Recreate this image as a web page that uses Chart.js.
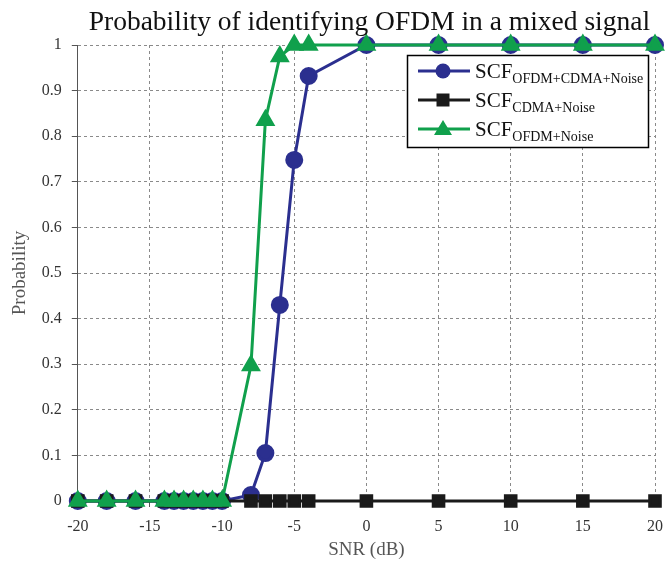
<!DOCTYPE html>
<html>
<head>
<meta charset="utf-8">
<script src="https://cdn.jsdelivr.net/npm/chart.js@4.4.1/dist/chart.umd.min.js"></script>
<style>
  html, body { margin: 0; padding: 0; background: #fff; }
  #wrap { width: 665px; height: 562px; position: relative; }
</style>
</head>
<body>
<div id="wrap"><canvas id="chart" width="665" height="562"></canvas></div>
<script>
// SNR values (dB) shared by all three curves
const snr = [-20, -18, -16, -14, -13.33, -12.67, -12, -11.33, -10.67, -10, -8, -7, -6, -5, -4, 0, 5, 10, 15, 20];

// probability of identifying OFDM
const probMixed = [0, 0, 0, 0, 0, 0, 0, 0, 0, 0, 0.013, 0.105, 0.43, 0.748, 0.932, 1, 1, 1, 1, 1];
const probCdma  = [0, 0, 0, 0, 0, 0, 0, 0, 0, 0, 0, 0, 0, 0, 0, 0, 0, 0, 0, 0];
const probOfdm  = [0, 0, 0, 0, 0, 0, 0, 0, 0, 0, 0.297, 0.835, 0.975, 1, 1, 1, 1, 1, 1, 1];

// legend text: main part + subscript
const legendMain = ['SCF', 'SCF', 'SCF'];
const legendSub = ['OFDM+CDMA+Noise', 'CDMA+Noise', 'OFDM+Noise'];

const chartTitle = 'Probability of identifying OFDM in a mixed signal';
const xTicks = [-20, -15, -10, -5, 0, 5, 10, 15, 20];
const yTicks = [0, 0.1, 0.2, 0.3, 0.4, 0.5, 0.6, 0.7, 0.8, 0.9, 1];

const BLUE = '#2b2f8f';
const BLACK = '#1a1a1a';
const GREEN = '#10a04c';
const SERIF = "'Liberation Serif', 'DejaVu Serif', serif";

const toXY = (ys) => snr.map((x, i) => ({ x: x, y: ys[i] }));

// title centred over the plot area
const plotTitle = {
  id: 'plotTitle',
  afterDraw(chart) {
    const ctx = chart.ctx;
    const area = chart.chartArea;
    ctx.save();
    ctx.fillStyle = '#111';
    ctx.font = '27.5px ' + SERIF;
    ctx.textAlign = 'center';
    ctx.textBaseline = 'alphabetic';
    ctx.fillText(chartTitle, (area.left + area.right) / 2 + 3, 30);
    ctx.restore();
  }
};

// legend drawn by hand so the subscripts come out right
const subLegend = {
  id: 'subLegend',
  afterDraw(chart) {
    const ctx = chart.ctx;
    const area = chart.chartArea;
    const bx = area.right - 248, by = area.top + 10, bw = 241, bh = 92;
    ctx.save();
    ctx.fillStyle = '#fff';
    ctx.fillRect(bx, by, bw, bh);
    ctx.strokeStyle = '#000';
    ctx.lineWidth = 1.5;
    ctx.strokeRect(bx + 0.5, by + 0.5, bw, bh);
    const ds = chart.data.datasets;
    for (let i = 0; i < 3; i++) {
      const d = ds.find(s => s.legendIdx === i);
      const cy = by + 16 + i * 29;
      ctx.strokeStyle = d.borderColor;
      ctx.lineWidth = 3;
      ctx.beginPath();
      ctx.moveTo(bx + 11, cy);
      ctx.lineTo(bx + 63, cy);
      ctx.stroke();
      ctx.fillStyle = d.borderColor;
      const mx = bx + 36;
      ctx.beginPath();
      if (d.pointStyle === 'circle') {
        ctx.arc(mx, cy, 7.5, 0, Math.PI * 2);
      } else if (d.pointStyle === 'rect') {
        ctx.rect(mx - 6.5, cy - 6.5, 13, 13);
      } else {
        ctx.moveTo(mx, cy - 9);
        ctx.lineTo(mx + 9, cy + 6);
        ctx.lineTo(mx - 9, cy + 6);
        ctx.closePath();
      }
      ctx.fill();
      ctx.fillStyle = '#111';
      ctx.textBaseline = 'alphabetic';
      ctx.font = '21px ' + SERIF;
      ctx.fillText(legendMain[i], bx + 68, cy + 7);
      const w = ctx.measureText(legendMain[i]).width;
      ctx.font = '14px ' + SERIF;
      ctx.fillText(legendSub[i], bx + 68 + w, cy + 12);
    }
    ctx.restore();
  }
};

const commonDs = { borderWidth: 3, showLine: true, tension: 0, clip: false };

new Chart(document.getElementById('chart'), {
  type: 'scatter',
  data: {
    datasets: [
      Object.assign({}, commonDs, {
        label: legendMain[0] + legendSub[0], legendIdx: 0, data: toXY(probMixed), order: 2,
        borderColor: BLUE, backgroundColor: BLUE, pointStyle: 'circle', pointRadius: 7.5, pointHoverRadius: 7.5
      }),
      Object.assign({}, commonDs, {
        label: legendMain[1] + legendSub[1], legendIdx: 1, data: toXY(probCdma), order: 1,
        borderColor: BLACK, backgroundColor: BLACK, pointStyle: 'rect', pointRadius: 7.5, pointHoverRadius: 7.5
      }),
      Object.assign({}, commonDs, {
        label: legendMain[2] + legendSub[2], legendIdx: 2, data: toXY(probOfdm), order: 0,
        borderColor: GREEN, backgroundColor: GREEN, pointStyle: 'triangle', pointRadius: 8.5, pointHoverRadius: 8.5
      })
    ]
  },
  options: {
    responsive: false,
    animation: false,
    layout: { autoPadding: false, padding: { left: 9, right: 10, top: 45, bottom: 0 } },
    plugins: {
      legend: { display: false },
      tooltip: { enabled: false },
      title: { display: false }
    },
    scales: {
      x: {
        type: 'linear', min: -20, max: 20,
        afterBuildTicks: (axis) => { axis.ticks = xTicks.map(v => ({ value: v })); },
        // let the last tick label hang past the plot edge, as in the original
        afterFit: (axis) => { axis.paddingRight = 0; },
        ticks: { color: '#333', font: { family: SERIF, size: 16, lineHeight: 1 }, padding: 12 },
        grid: { color: '#8a8a8a', lineWidth: 1, drawTicks: true, tickLength: 6, tickColor: '#555', tickBorderDash: [] },
        border: { display: true, color: '#555', width: 1, dash: [3, 3] },
        title: { display: true, text: 'SNR (dB)', color: '#555', font: { family: SERIF, size: 19, lineHeight: 1 }, padding: { top: -6, bottom: 2 } }
      },
      y: {
        type: 'linear', min: 0, max: 1,
        afterBuildTicks: (axis) => { axis.ticks = yTicks.map(v => ({ value: v })); },
        ticks: { color: '#333', font: { family: SERIF, size: 16 }, padding: 10,
          callback: (v) => String(Math.round(v * 10) / 10) },
        grid: { color: '#8a8a8a', lineWidth: 1, drawTicks: true, tickLength: 6, tickColor: '#555', tickBorderDash: [] },
        border: { display: true, color: '#555', width: 1, dash: [3, 3] },
        title: { display: true, text: 'Probability', color: '#555', font: { family: SERIF, size: 19 }, padding: { top: 0, bottom: 0 } }
      }
    }
  },
  plugins: [plotTitle, subLegend]
});
</script>
</body>
</html>
